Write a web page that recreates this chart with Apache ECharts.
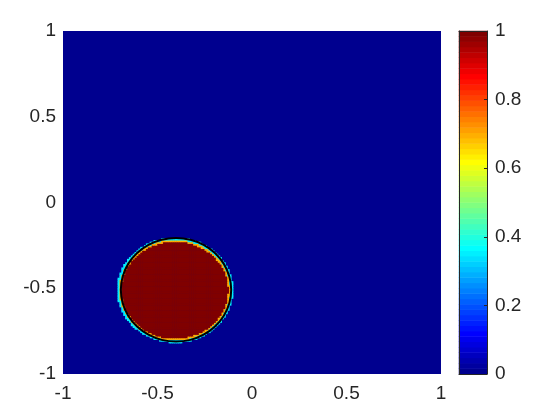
<!DOCTYPE html>
<html>
<head>
<meta charset="utf-8">
<script src="https://cdn.jsdelivr.net/npm/echarts@6/dist/echarts.min.js"></script>
<style>html,body{margin:0;padding:0;background:#fff}#c{width:560px;height:420px}</style>
</head>
<body>
<div id="c"></div>
<script>
// ---- data ----
// field sampled on a 200 x 200 grid over [-1,1] x [-1,1]; background value 0
const gridSize = 200;
// outer fringe (value ~0.35, cyan), rows 18..78 : first / last column of the band in each row
const fringeOuterValue = 0.35;
const fringeOuterStartRow = 18;
const fringeOuterLeft  = [56,51,48,46,44,42,41,40,38,37,36,36,35,34,33,33,32,32,31,31,31,30,30,30,29,29,29,29,29,29,29,29,29,29,29,29,29,29,30,30,30,31,31,31,32,32,33,34,34,35,36,37,38,39,40,41,43,44,46,48,52];
const fringeOuterRight = [62,67,70,72,74,75,77,78,79,80,81,82,83,83,84,85,85,86,86,87,87,87,88,88,88,88,89,89,89,89,89,89,89,89,89,89,88,88,88,88,87,87,87,86,86,85,85,84,83,83,82,81,80,79,78,76,75,73,72,69,66];
// inner fringe (value ~0.7, orange/yellow), rows 20..77
const fringeInnerValue = 0.7;
const fringeInnerStartRow = 20;
const fringeInnerLeft  = [52,49,46,44,43,42,40,39,38,37,36,36,35,34,34,33,33,32,32,31,31,31,31,30,30,30,30,30,30,30,30,30,30,30,30,31,31,31,32,32,32,33,33,34,34,35,36,37,37,38,39,40,42,43,45,47,49,52];
const fringeInnerRight = [66,69,71,73,75,76,77,78,79,80,81,82,83,83,84,84,85,85,86,86,86,87,87,87,87,88,88,88,88,88,88,88,87,87,87,87,87,86,86,86,85,85,84,84,83,83,82,81,80,79,78,77,76,74,73,71,68,65];
// core (value 1, dark red), rows 21..76
const coreValue = 1;
const coreStartRow = 21;
const coreLeft  = [52,49,47,45,43,42,41,40,39,38,37,36,36,35,34,34,33,33,33,32,32,32,32,31,31,31,31,31,31,31,31,31,31,32,32,32,32,33,33,33,34,34,35,36,36,37,38,39,40,41,42,44,45,47,50,53];
const coreRight = [65,68,71,73,74,76,77,78,79,80,81,81,82,83,83,84,84,85,85,85,86,86,86,86,86,86,87,87,87,87,86,86,86,86,86,86,85,85,85,84,84,83,83,82,81,80,80,79,78,77,75,74,72,70,68,65];
// black interface contour (x, y)
const contourX = [-0.110,-0.120,-0.149,-0.196,-0.256,-0.326,-0.402,-0.478,-0.548,-0.608,-0.655,-0.684,-0.694,-0.684,-0.655,-0.608,-0.548,-0.478,-0.402,-0.326,-0.256,-0.196,-0.149,-0.120,-0.110];
const contourY = [-0.509,-0.431,-0.358,-0.295,-0.247,-0.217,-0.207,-0.217,-0.247,-0.295,-0.358,-0.431,-0.509,-0.587,-0.660,-0.723,-0.771,-0.801,-0.811,-0.801,-0.771,-0.723,-0.660,-0.587,-0.509];
// axes
const axisMin = -1, axisMax = 1, axisStep = 0.5;
const cbMin = 0, cbMax = 1, cbStep = 0.2;
const colormapSize = 64;

// ---- colormap (MATLAB jet, 64 entries) ----
function jet(k) { // k = 1..m
  const n = colormapSize / 4, u = [];
  for (let i = 1; i <= n; i++) u.push(i / n);
  for (let i = 1; i < n; i++) u.push(1);
  for (let i = n; i >= 1; i--) u.push(i / n);
  const g = idx => (idx >= 1 && idx <= u.length) ? u[idx - 1] : 0;
  const h = v => Math.round(v * 255).toString(16).padStart(2, '0');
  return '#' + h(g(k - 24)) + h(g(k - 8)) + h(g(k + 8));
}
const pieces = [];
for (let k = 1; k <= colormapSize; k++) {
  pieces.push({ gte: (k - 1) / colormapSize, lt: k === colormapSize ? 1.0001 : k / colormapSize, color: jet(k) });
}

// ---- build cells ----
const cells = new Map();
function paint(startRow, L, R, v) {
  for (let r = 0; r < L.length; r++)
    for (let c = L[r]; c <= R[r]; c++) cells.set(c + ',' + (startRow + r), v);
}
paint(fringeOuterStartRow, fringeOuterLeft, fringeOuterRight, fringeOuterValue);
paint(fringeInnerStartRow, fringeInnerLeft, fringeInnerRight, fringeInnerValue);
paint(coreStartRow, coreLeft, coreRight, coreValue);
const heatData = [];
cells.forEach((v, k) => { const p = k.split(','); heatData.push([+p[0], +p[1], v]); });
const gridCats = Array.from({ length: gridSize }, (_, i) => i);
const bandCats = Array.from({ length: colormapSize }, (_, i) => i);
const bandData = bandCats.map(i => [0, i, (i + 0.5) / colormapSize]);
const contourData = contourX.map((x, i) => [x, contourY[i]]);

const txt = '#262626';
const font = "'Liberation Sans', Arial, Helvetica, sans-serif";
const chart = echarts.init(document.getElementById('c'), null, { renderer: 'canvas' });
chart.setOption({
  animation: false,
  backgroundColor: '#ffffff',
  grid: [
    { left: 63, top: 31, width: 378, height: 343, show: true, backgroundColor: jet(1), borderWidth: 0 },
    { left: 459, top: 31, width: 28, height: 343, show: false }
  ],
  visualMap: [{ type: 'piecewise', show: false, seriesIndex: [0, 2], pieces: pieces }],
  xAxis: [
    { type: 'category', gridIndex: 0, data: gridCats, position: 'top', show: false },
    { type: 'value', gridIndex: 0, position: 'bottom', min: axisMin, max: axisMax, interval: axisStep,
      axisLine: { show: false }, axisTick: { show: false }, splitLine: { show: false },
      axisLabel: { color: txt, fontSize: 19, fontFamily: font, margin: 10 } },
    { type: 'category', gridIndex: 1, data: ['cb'], position: 'bottom', z: 5,
      axisLine: { show: true, lineStyle: { color: txt, width: 1 } }, axisTick: { show: false }, axisLabel: { show: false } },
    { type: 'category', gridIndex: 1, data: ['cb'], position: 'top', z: 5,
      axisLine: { show: true, lineStyle: { color: txt, width: 1 } }, axisTick: { show: false }, axisLabel: { show: false } }
  ],
  yAxis: [
    { type: 'category', gridIndex: 0, data: gridCats, position: 'right', show: false },
    { type: 'value', gridIndex: 0, position: 'left', min: axisMin, max: axisMax, interval: axisStep,
      axisLine: { show: false }, axisTick: { show: false }, splitLine: { show: false },
      axisLabel: { color: txt, fontSize: 19, fontFamily: font, margin: 7 } },
    { type: 'category', gridIndex: 1, data: bandCats, position: 'left', z: 5,
      axisLine: { show: true, lineStyle: { color: txt, width: 1 } }, axisTick: { show: false }, axisLabel: { show: false } },
    { type: 'value', gridIndex: 1, position: 'right', min: cbMin, max: cbMax, interval: cbStep, z: 5,
      axisLine: { show: true, lineStyle: { color: txt, width: 1 } },
      axisTick: { show: true, inside: true, length: 3, lineStyle: { color: txt } },
      splitLine: { show: false },
      axisLabel: { color: txt, fontSize: 19, fontFamily: font, margin: 8 } }
  ],
  series: [
    { type: 'heatmap', xAxisIndex: 0, yAxisIndex: 0, data: heatData, emphasis: { disabled: true }, progressive: 0 },
    { type: 'line', xAxisIndex: 1, yAxisIndex: 1, data: contourData, smooth: true, symbol: 'none',
      lineStyle: { color: '#000000', width: 2 }, z: 3, silent: true },
    { type: 'heatmap', xAxisIndex: 2, yAxisIndex: 2, data: bandData, emphasis: { disabled: true } }
  ]
});
</script>
</body>
</html>
